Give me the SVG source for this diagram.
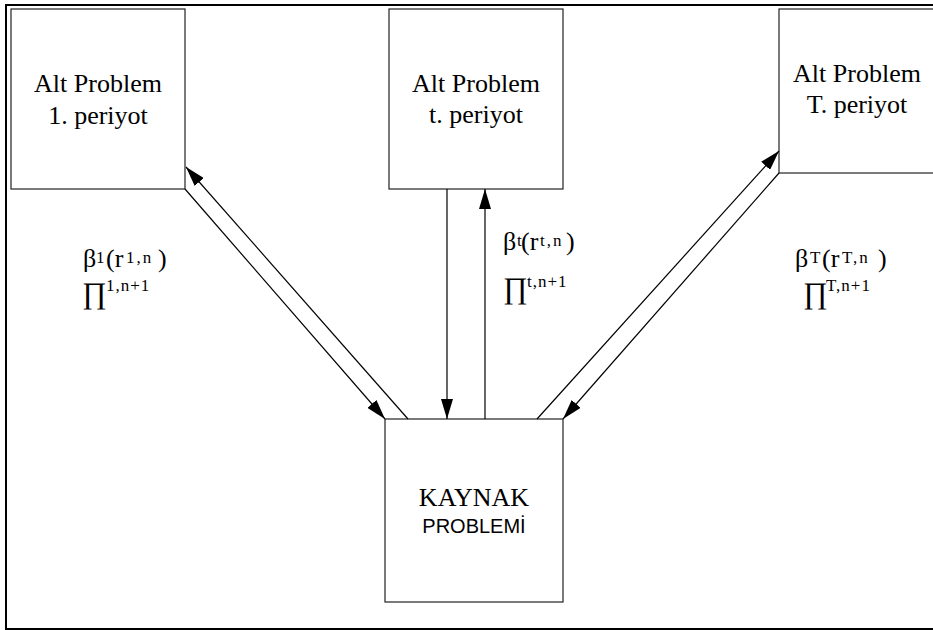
<svg xmlns="http://www.w3.org/2000/svg" width="933" height="630" viewBox="0 0 933 630">
<style>
.box{fill:#fff;stroke:#222;stroke-width:1.2}
.frame{fill:none;stroke:#000;stroke-width:2}
.t{font-size:26px;fill:#000;text-anchor:middle}
.s{font-size:20px;fill:#000;text-anchor:middle}
.lab{font-size:26px;fill:#000}
.sup{font-size:17px}
.pi{font-size:30px}
.conn line{stroke:#000;stroke-width:1.2;marker-end:url(#ah)}
</style>
<defs>
<marker id="ah" markerUnits="userSpaceOnUse" markerWidth="20" markerHeight="12" refX="20" refY="6" orient="auto">
<path d="M0,0 L20,6 L0,12 z" fill="#000"/>
</marker>
</defs>
<rect width="933" height="630" fill="#fff"/>
<rect class="frame" x="6" y="5" width="940" height="624"/>
<g id="node-alt1" font-family="'Liberation Serif', Tinos, 'Times New Roman', 'DejaVu Serif', serif">
<rect class="box" x="11" y="9" width="174" height="180"/>
<text class="t" x="98" y="92">Alt Problem</text>
<text class="t" x="98" y="124">1. periyot</text>
</g>
<g id="node-altt" font-family="'Liberation Serif', Tinos, 'Times New Roman', 'DejaVu Serif', serif">
<rect class="box" x="389" y="9" width="174" height="180"/>
<text class="t" x="476" y="92">Alt Problem</text>
<text class="t" x="476" y="123">t. periyot</text>
</g>
<g id="node-altT" font-family="'Liberation Serif', Tinos, 'Times New Roman', 'DejaVu Serif', serif">
<rect class="box" x="779" y="9" width="200" height="164"/>
<text class="t" x="857" y="82">Alt Problem</text>
<text class="t" x="857" y="113">T. periyot</text>
</g>
<g id="node-kaynak">
<rect class="box" x="385" y="419" width="178" height="183"/>
<text class="t" x="474" y="506" font-size="27" font-family="'Liberation Serif', Tinos, 'Times New Roman', 'DejaVu Serif', serif">KAYNAK</text>
<text class="s" x="474" y="533" font-family="'Liberation Sans', Arimo, Arial, 'DejaVu Sans', sans-serif">PROBLEMİ</text>
</g>
<g id="connectors" class="conn">
<line x1="185" y1="189" x2="385" y2="419"/>
<line x1="408" y1="419" x2="186" y2="167"/>
<line x1="447" y1="189" x2="447" y2="419"/>
<line x1="485" y1="419" x2="485" y2="189"/>
<line x1="537" y1="419" x2="779" y2="151"/>
<line x1="779" y1="173" x2="563" y2="419"/>
</g>
<g id="labels" font-family="'Liberation Serif', Tinos, 'Times New Roman', 'DejaVu Serif', serif">
<text class="lab"><tspan x="83" y="267">β</tspan><tspan class="sup" x="96" y="263">1</tspan><tspan x="106" y="267">(r</tspan><tspan class="sup" x="126" y="263" letter-spacing="2">1,n</tspan><tspan x="158" y="267">)</tspan></text>
<text class="lab"><tspan class="pi" x="82" y="303">∏</tspan><tspan class="sup" x="106" y="291" letter-spacing="1">1,n+1</tspan></text>
<text class="lab"><tspan x="503" y="250">β</tspan><tspan class="sup" x="517" y="246">t</tspan><tspan x="521" y="250">(r</tspan><tspan class="sup" x="540" y="246" letter-spacing="2">t,n</tspan><tspan x="566" y="250">)</tspan></text>
<text class="lab"><tspan class="pi" x="503" y="298">∏</tspan><tspan class="sup" x="527" y="287" letter-spacing="1">t,n+1</tspan></text>
<text class="lab"><tspan x="795" y="267">β</tspan><tspan class="sup" x="810" y="263">T</tspan><tspan x="822" y="267">(r</tspan><tspan class="sup" x="842" y="263" letter-spacing="2">T,n</tspan><tspan x="878" y="267">)</tspan></text>
<text class="lab"><tspan class="pi" x="803" y="303">∏</tspan><tspan class="sup" x="826" y="291" letter-spacing="1">T,n+1</tspan></text>
</g>
</svg>
